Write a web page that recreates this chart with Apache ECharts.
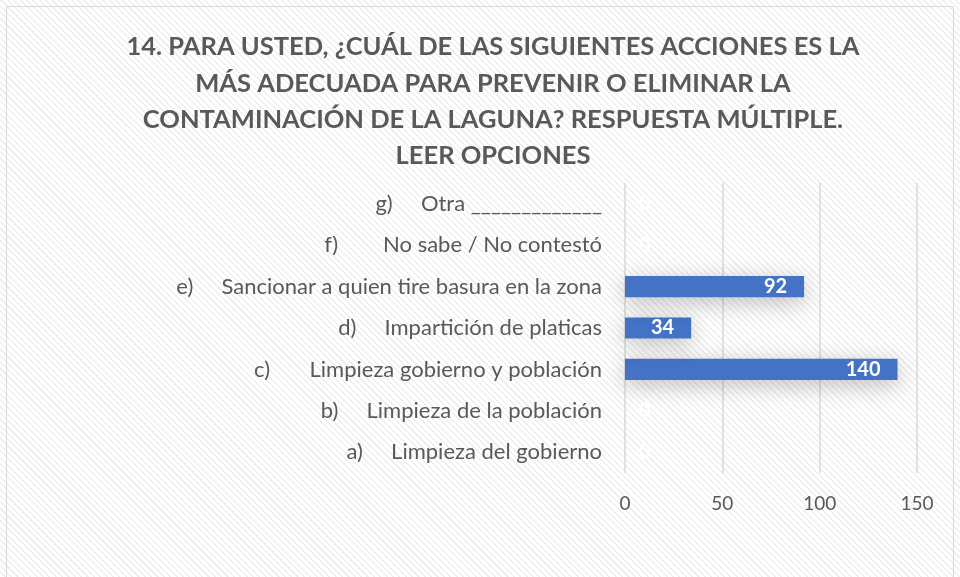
<!DOCTYPE html>
<html>
<head>
<meta charset="utf-8">
<script src="https://cdn.jsdelivr.net/npm/echarts@6/dist/echarts.min.js"></script>
<style>
  html, body { margin: 0; padding: 0; }
  #main {
    width: 960px;
    height: 577px;
    background: repeating-linear-gradient(45deg, #ffffff 0px, #ffffff 3px, #efefef 3px, #efefef 4.5px);
  }
</style>
</head>
<body>
<div id="main"></div>
<script>
// categorias (de abajo hacia arriba, como en el grafico)
var categorias = [
  'a)     Limpieza del gobierno',
  'b)     Limpieza de la población',
  'c)       Limpieza gobierno y población',
  'd)     Impartición de platicas',
  'e)     Sancionar a quien tire basura en la zona',
  'f)        No sabe / No contestó',
  'g)     Otra _____________'
]
var valores = [0, 0, 140, 34, 92, 0, 0]
var ticksX = [0, 50, 100, 150]

var titulo = '14. PARA USTED, ¿CUÁL DE LAS SIGUIENTES ACCIONES ES LA\nMÁS ADECUADA PARA PREVENIR O ELIMINAR LA\nCONTAMINACIÓN DE LA LAGUNA? RESPUESTA MÚLTIPLE.\nLEER OPCIONES'

var myChart = echarts.init(document.getElementById('main'))

var option = {
  backgroundColor: 'transparent',
  animation: false,
  textStyle: { fontFamily: 'Lato' },
  title: {
    text: titulo,
    left: 488,
    top: 24,
    textAlign: 'center',
    textStyle: {
      fontFamily: 'Lato',
      fontWeight: 'bold',
      fontSize: 25.5,
      lineHeight: 36.3,
      color: '#595959'
    }
  },
  graphic: [
    {
      type: 'rect',
      shape: { x: 6.5, y: 6.5, width: 947, height: 620 },
      style: { fill: 'none', stroke: '#d9d9d9', lineWidth: 1 },
      silent: true
    }
  ],
  grid: {
    left: 625,
    right: 43,
    top: 183,
    bottom: 104,
    containLabel: false
  },
  xAxis: {
    type: 'value',
    min: ticksX[0],
    max: ticksX[ticksX.length - 1],
    interval: 50,
    axisLine: { show: false },
    axisTick: { show: false },
    splitLine: { show: true, lineStyle: { color: '#d9d9d9', width: 1.5 } },
    axisLabel: {
      color: '#595959',
      fontSize: 19,
      fontFamily: 'Lato',
      margin: 21
    }
  },
  yAxis: {
    type: 'category',
    data: categorias,
    axisLine: { show: false },
    axisTick: { show: false },
    axisLabel: {
      color: '#595959',
      fontSize: 22,
      fontFamily: 'Lato',
      margin: 23
    }
  },
  series: [
    {
      type: 'bar',
      barCategoryGap: '49%',
      data: valores.map(function (v) {
        return {
          value: v,
          label: v === 0 ? { position: 'right', distance: 14 } : {}
        }
      }),
      itemStyle: {
        color: '#4472c4',
        shadowBlur: 22,
        shadowColor: 'rgba(0,0,0,0.25)',
        shadowOffsetY: 5
      },
      label: {
        show: true,
        position: 'insideRight',
        distance: 17,
        color: '#ffffff',
        fontWeight: 'bold',
        fontSize: 20,
        fontFamily: 'Lato'
      }
    }
  ]
}

myChart.setOption(option)
</script>
</body>
</html>
